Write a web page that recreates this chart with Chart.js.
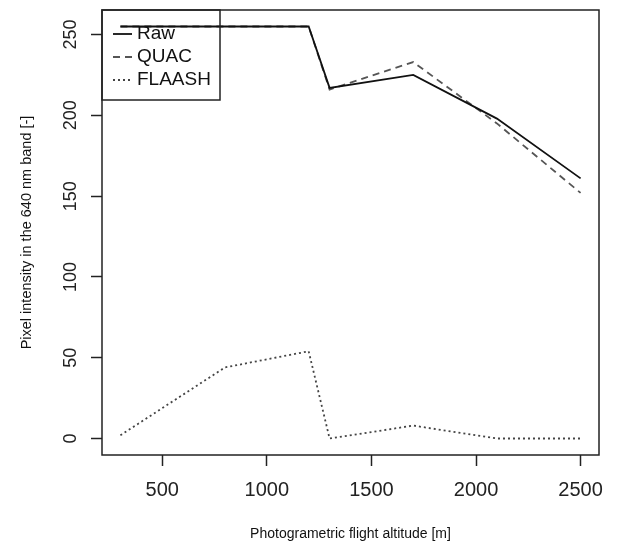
<!DOCTYPE html>
<html>
<head>
<meta charset="utf-8">
<script src="https://cdn.jsdelivr.net/npm/chart.js@4"></script>
<style>
  html, body { margin: 0; padding: 0; background: #fff; }
  #wrap { width: 631px; height: 543px; }
</style>
</head>
<body>
<div id="wrap"><canvas id="myChart" width="631" height="543"></canvas></div>
<script>
var altitudes = [300, 800, 1200, 1300, 1700, 2100, 2500];
var rawValues = [255, 255, 255, 217, 225, 198, 161];
var quacValues = [255, 255, 255, 216, 233, 195, 152];
var flaashValues = [2, 44, 54, 0, 8, 0, 0];
var seriesNames = ['Raw', 'QUAC', 'FLAASH'];
var xTicks = [500, 1000, 1500, 2000, 2500];
var yTicks = [0, 50, 100, 150, 200, 250];

function toPoints(vals) {
    return altitudes.map(function(a, i) { return {x: a, y: vals[i]}; });
}

var fontName = "'Liberation Sans', Arial, sans-serif";

// box around the plot + legend in the top-left corner (R style)
var boxPlugin = {
    id: 'boxPlugin',
    afterDraw: function(chart) {
        var ctx = chart.ctx;
        var a = chart.chartArea;
        ctx.save();
        ctx.strokeStyle = '#222';
        ctx.lineWidth = 1.5;
        ctx.strokeRect(a.left, a.top, a.right - a.left, a.bottom - a.top);
        // legend
        var lx = a.left, ly = a.top, lw = 118, lh = 90;
        ctx.strokeRect(lx, ly, lw, lh);
        ctx.font = '19px ' + fontName;
        ctx.textBaseline = 'middle';
        chart.data.datasets.forEach(function(ds, i) {
            var yy = ly + 24 + i * 23;
            ctx.beginPath();
            ctx.setLineDash(ds.borderDash || []);
            ctx.strokeStyle = ds.borderColor;
            ctx.lineWidth = ds.borderWidth;
            ctx.moveTo(lx + 11, yy);
            ctx.lineTo(lx + 30, yy);
            ctx.stroke();
            ctx.setLineDash([]);
            ctx.fillStyle = '#111';
            ctx.fillText(ds.label, lx + 35, yy);
        });
        ctx.restore();
    }
};

var ctx = document.getElementById('myChart').getContext('2d');
var myChart = new Chart(ctx, {
    type: 'line',
    data: {
        datasets: [{
            label: seriesNames[0],
            data: toPoints(rawValues),
            borderColor: '#111',
            borderWidth: 1.8,
            pointRadius: 0,
            tension: 0
        }, {
            label: seriesNames[1],
            data: toPoints(quacValues),
            borderColor: '#555',
            borderWidth: 1.8,
            borderDash: [7, 5],
            pointRadius: 0,
            tension: 0
        }, {
            label: seriesNames[2],
            data: toPoints(flaashValues),
            borderColor: '#444',
            borderWidth: 1.8,
            borderDash: [2, 3],
            pointRadius: 0,
            tension: 0
        }]
    },
    options: {
        responsive: false,
        animation: false,
        layout: { padding: { left: 0, right: 32, top: 10, bottom: 0 } },
        plugins: {
            legend: { display: false },
            tooltip: { enabled: false }
        },
        scales: {
            x: {
                type: 'linear',
                min: 212,
                max: 2588,
                afterBuildTicks: function(scale) {
                    scale.ticks = xTicks.map(function(v) { return {value: v}; });
                },
                afterFit: function(scale) {
                    scale.height = 88;
                    scale.paddingLeft = 0;
                    scale.paddingRight = 0;
                },
                grid: { drawOnChartArea: false, drawTicks: true, tickLength: 11, tickColor: '#222', tickWidth: 1.5 },
                border: { display: false },
                ticks: {
                    color: '#222',
                    padding: 12,
                    maxRotation: 0,
                    font: { family: fontName, size: 20 },
                    callback: function(v) { return String(v); }
                },
                title: {
                    display: true,
                    text: 'Photogrametric flight altitude [m]',
                    color: '#111',
                    padding: { top: 0, bottom: 0 },
                    font: { family: fontName, size: 14 }
                }
            },
            y: {
                min: -10.2,
                max: 265.2,
                afterBuildTicks: function(scale) {
                    scale.ticks = yTicks.map(function(v) { return {value: v}; });
                },
                afterFit: function(scale) {
                    scale.width = 102;
                    scale.paddingTop = 0;
                    scale.paddingBottom = 0;
                },
                grid: { drawOnChartArea: false, drawTicks: true, tickLength: 11, tickColor: '#222', tickWidth: 1.5 },
                border: { display: false },
                ticks: {
                    color: '#222',
                    padding: 5,
                    minRotation: 90,
                    maxRotation: 90,
                    crossAlign: 'center',
                    font: { family: fontName, size: 18 },
                    callback: function(v) { return String(v); }
                },
                title: {
                    display: true,
                    text: 'Pixel intensity in the 640 nm band [-]',
                    color: '#111',
                    padding: { top: 18, bottom: 0 },
                    font: { family: fontName, size: 14.5 }
                }
            }
        }
    },
    plugins: [boxPlugin]
});
</script>
</body>
</html>
